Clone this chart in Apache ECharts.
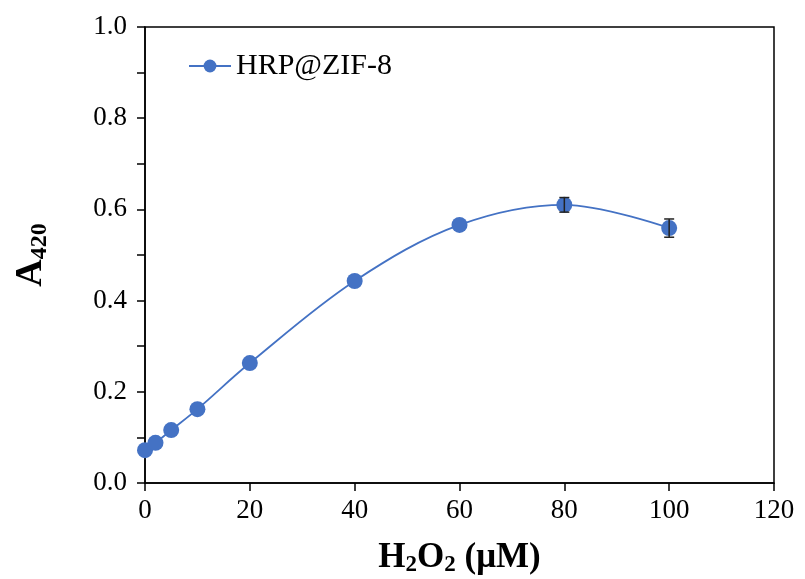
<!DOCTYPE html>
<html><head><meta charset="utf-8">
<script src="https://cdn.jsdelivr.net/npm/echarts@6/dist/echarts.min.js"></script>
<style>html,body{margin:0;padding:0;background:#fff}#c{width:805px;height:579px}</style>
</head><body><div id="c"></div>
<script>
const xValues = [0, 2, 5, 10, 20, 40, 60, 80, 100];
const yValues = [0.072, 0.088, 0.116, 0.162, 0.263, 0.443, 0.566, 0.610, 0.559];
const yErrors = [0, 0, 0, 0, 0, 0, 0, 0.016, 0.020];
const seriesName = 'HRP@ZIF-8';

const ser = xValues.map((x, i) => [x, yValues[i]]);
const err = xValues.map((x, i) => [x, yValues[i] - yErrors[i], yValues[i] + yErrors[i]]).filter((d, i) => yErrors[i] > 0);
const font = '"Liberation Serif","Times New Roman",serif';
const chart = echarts.init(document.getElementById('c'));
chart.setOption({
  animation: false,
  backgroundColor: '#fff',
  grid: { left: 145, right: 31, top: 27, bottom: 96, containLabel: false, outerBoundsMode: 'none',
    show: true, borderColor: '#000', borderWidth: 1.5, backgroundColor: 'transparent' },
  legend: {
    data: [seriesName], left: 183, top: 46, itemWidth: 42, itemHeight: 16, itemGap: 15,
    textStyle: { fontFamily: font, fontSize: 30, color: '#000' }
  },
  xAxis: {
    type: 'value', min: 0, max: 120, interval: 20,
    axisLine: { lineStyle: { color: '#000', width: 1.5 } },
    axisTick: { length: 8, lineStyle: { color: '#000', width: 1.5 } },
    axisLabel: { fontFamily: font, fontSize: 27, color: '#000', margin: 14 },
    splitLine: { show: false },
    name: '{b|H}{s|2}{b|O}{s|2}{b| (μM)}', nameLocation: 'middle', nameGap: 55,
    nameTextStyle: { rich: {
      b: { fontFamily: font, fontSize: 35, fontWeight: 'bold', color: '#000' },
      s: { fontFamily: font, fontSize: 23, fontWeight: 'bold', color: '#000', padding: [16, 0, 0, 0] }
    } }
  },
  yAxis: {
    type: 'value', min: 0, max: 1, interval: 0.2,
    axisLine: { lineStyle: { color: '#000', width: 1.5 } },
    axisTick: { length: 8, lineStyle: { color: '#000', width: 1.5 } },
    minorTick: { show: true, splitNumber: 2, length: 8, lineStyle: { color: '#000', width: 1.5 } },
    axisLabel: { fontFamily: font, fontSize: 27, color: '#000', margin: 18, formatter: v => v.toFixed(1) },
    splitLine: { show: false },
    name: '{b|A}{s|420}', nameLocation: 'middle', nameGap: 93, nameRotate: 90,
    nameTextStyle: { rich: {
      b: { fontFamily: font, fontSize: 38, fontWeight: 'bold', color: '#000' },
      s: { fontFamily: font, fontSize: 24, fontWeight: 'bold', color: '#000', padding: [18, 0, 0, 0] }
    } }
  },
  series: [
    {
      name: seriesName, type: 'line', data: ser, smooth: 0.35,
      symbol: 'circle', symbolSize: 16,
      itemStyle: { color: '#4472C4' },
      lineStyle: { color: '#4472C4', width: 1.8 }, z: 3
    },
    {
      type: 'custom', data: err, z: 4, silent: true,
      renderItem: (params, api) => {
        const x = api.value(0);
        const lo = api.coord([x, api.value(1)]);
        const hi = api.coord([x, api.value(2)]);
        const w = 5;
        const st = { stroke: '#222', lineWidth: 1.5 };
        return { type: 'group', children: [
          { type: 'line', shape: { x1: lo[0], y1: lo[1], x2: hi[0], y2: hi[1] }, style: st },
          { type: 'line', shape: { x1: lo[0] - w, y1: lo[1], x2: lo[0] + w, y2: lo[1] }, style: st },
          { type: 'line', shape: { x1: hi[0] - w, y1: hi[1], x2: hi[0] + w, y2: hi[1] }, style: st }
        ] };
      }
    }
  ]
});
</script></body></html>
